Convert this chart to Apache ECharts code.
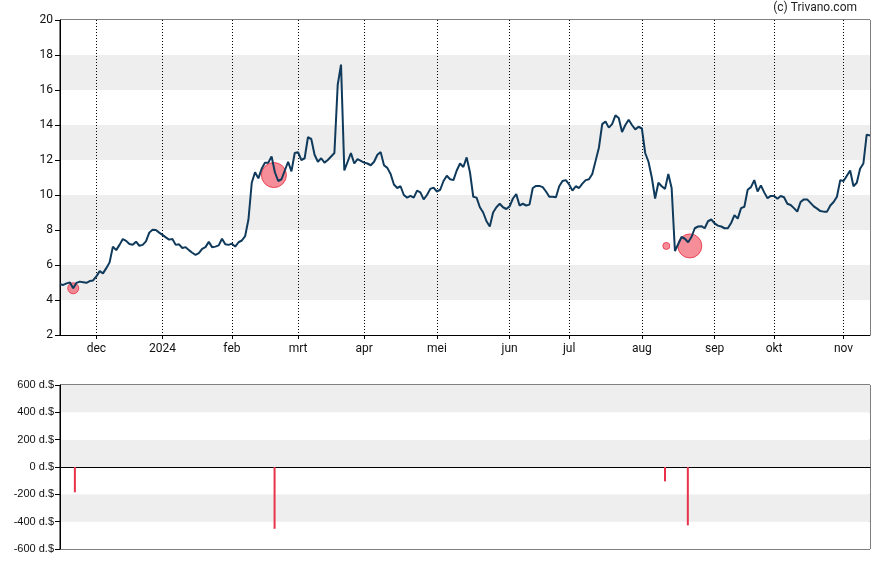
<!DOCTYPE html>
<html><head><meta charset="utf-8">
<script src="https://cdn.jsdelivr.net/npm/echarts@6/dist/echarts.min.js"></script>
<style>html,body{margin:0;padding:0;background:#fff}#c{width:888px;height:565px}</style>
</head><body><div id="c"></div>
<script>
const prices = [
4.90,4.86,4.95,5.00,4.67,4.98,5.05,5.02,4.98,5.08,
5.12,5.35,5.65,5.52,5.82,6.15,7.05,6.85,7.15,7.48,
7.38,7.20,7.16,7.33,7.10,7.15,7.35,7.85,8.02,8.00,
7.85,7.72,7.58,7.45,7.48,7.15,7.18,6.97,7.02,6.85,
6.70,6.58,6.68,6.92,7.02,7.32,7.02,7.05,7.12,7.50,
7.18,7.15,7.22,7.05,7.30,7.40,7.65,8.60,10.70,11.30,
10.95,11.50,11.85,11.85,12.20,11.30,10.80,10.90,11.40,11.90,
11.35,12.40,12.45,12.00,12.10,13.30,13.20,12.30,11.90,12.10,
11.85,12.00,12.20,12.40,16.30,17.45,11.40,11.90,12.40,11.80,
12.05,11.95,11.85,11.80,11.70,11.90,12.30,12.45,11.70,11.55,
11.20,10.60,10.40,10.50,10.00,9.85,9.95,9.85,10.25,10.15,
9.75,10.00,10.35,10.42,10.20,10.30,10.80,11.10,10.90,10.85,
11.40,11.80,11.60,12.15,11.30,9.90,9.85,9.30,9.00,8.50,
8.20,9.00,9.30,9.50,9.30,9.20,9.35,9.80,10.05,9.40,
9.50,9.40,9.45,10.40,10.52,10.52,10.45,10.20,9.90,9.90,
9.87,10.50,10.80,10.85,10.60,10.25,10.50,10.40,10.65,10.85,
10.90,11.20,11.95,12.70,14.05,14.20,13.85,14.05,14.55,14.40,
13.60,14.00,14.30,14.00,13.75,13.90,13.80,12.40,11.90,11.00,
9.80,10.70,10.50,10.35,11.20,10.40,6.80,7.20,7.60,7.50,
7.30,7.60,8.10,8.20,8.22,8.10,8.50,8.60,8.38,8.25,
8.20,8.10,8.10,8.40,8.85,8.65,9.25,9.33,10.30,10.45,
10.85,10.20,10.55,10.15,9.82,9.95,9.94,9.78,9.94,9.87,
9.50,9.43,9.25,9.05,9.60,9.75,9.75,9.55,9.35,9.22,
9.08,9.05,9.05,9.40,9.60,9.90,10.85,10.80,11.10,11.40,
10.50,10.70,11.50,11.80,13.45,13.40
];
const monthLabels = ['dec','2024','feb','mrt','apr','mei','jun','jul','aug','sep','okt','nov'];
const monthStarts = [11,31,52,72,92,114,136,154,176,198,216,237];
const tradePos = [4.5, 64.9, 183, 189.9];
const tradeValue = [-185, -452, -105, -427];
const bubblePos = [4, 64.7, 183.4, 190.5];
const bubblePrice = [4.67, 11.14, 7.09, 7.09];
const bubbleSize = [11, 25, 7, 24];

const days = prices.map((_, i) => String(i));
const lastIdx = prices.length - 1;
const isMonth = (i) => monthStarts.indexOf(Number(i)) >= 0;

const chart = echarts.init(document.getElementById('c'), null, {renderer: 'canvas'});
chart.setOption({
  animation: false,
  backgroundColor: '#fff',
  graphic: [{
    type: 'text', right: 31, top: 2,
    style: {text: '(c) Trivano.com', font: '12px Roboto', fill: '#222'}
  }],
  grid: [
    {left: 60, right: 18, top: 20, height: 315, show: true, borderColor: '#000', borderWidth: 1, backgroundColor: 'transparent'},
    {left: 60, right: 18, top: 385, height: 164, show: true, borderColor: '#000', borderWidth: 1, backgroundColor: 'transparent'}
  ],
  xAxis: [
    {
      type: 'category', gridIndex: 0, data: days, boundaryGap: false,
      axisLine: {lineStyle: {color: '#000', width: 1}},
      axisTick: {show: true, length: 4, interval: (i) => isMonth(i), lineStyle: {color: '#000'}},
      axisLabel: {
        interval: (i) => isMonth(i), margin: 8, color: '#111', fontSize: 12, fontFamily: 'Roboto',
        formatter: (v) => { const k = monthStarts.indexOf(Number(v)); return k >= 0 ? monthLabels[k] : ''; }
      },
      splitLine: {show: true, interval: (i) => isMonth(i), lineStyle: {color: '#000', type: [1, 2], width: 1}}
    },
    {type: 'value', gridIndex: 0, min: 0, max: lastIdx, show: false},
    {
      type: 'value', gridIndex: 1, min: 0, max: lastIdx,
      axisLine: {show: true, onZero: true, lineStyle: {color: '#000', width: 1}},
      axisTick: {show: false}, axisLabel: {show: false}, splitLine: {show: false}
    }
  ],
  yAxis: [
    {
      type: 'value', gridIndex: 0, min: 2, max: 20, interval: 2,
      axisLine: {show: true, lineStyle: {color: '#000'}},
      axisTick: {show: true, length: 5, lineStyle: {color: '#000'}},
      axisLabel: {color: '#111', fontSize: 12, margin: 7, fontFamily: 'Roboto'},
      splitLine: {show: false},
      splitArea: {show: true, areaStyle: {color: ['#ffffff', '#eeeeee']}}
    },
    {
      type: 'value', gridIndex: 1, min: -600, max: 600, interval: 200,
      axisLine: {show: true, lineStyle: {color: '#000'}},
      axisTick: {show: true, length: 5, lineStyle: {color: '#000'}},
      axisLabel: {color: '#111', fontSize: 11, margin: 6, fontFamily: 'Liberation Sans', formatter: (v) => v + ' d.$'},
      splitLine: {show: false},
      splitArea: {show: true, areaStyle: {color: ['#ffffff', '#eeeeee']}}
    }
  ],
  series: [
    {
      type: 'scatter', xAxisIndex: 1, yAxisIndex: 0, z: 2,
      data: bubblePos.map((x, i) => [x, bubblePrice[i], bubbleSize[i]]),
      symbolSize: (d) => d[2],
      itemStyle: {color: 'rgba(240,72,90,0.62)', borderColor: 'rgba(232,50,70,0.85)', borderWidth: 1, opacity: 1}
    },
    {
      type: 'line', xAxisIndex: 0, yAxisIndex: 0, z: 3,
      data: prices, showSymbol: false, symbol: 'none',
      lineStyle: {color: '#0f3a5b', width: 2}
    },
    {
      type: 'bar', xAxisIndex: 2, yAxisIndex: 1, barWidth: 2,
      data: tradePos.map((x, i) => [x, tradeValue[i]]),
      itemStyle: {color: '#e8334a'}
    }
  ]
});
</script></body></html>
